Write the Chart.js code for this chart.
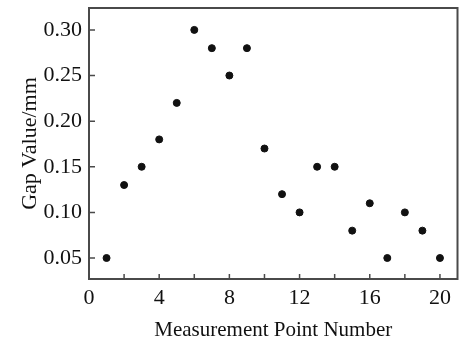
<!DOCTYPE html>
<html>
<head>
<meta charset="utf-8">
<script src="https://cdn.jsdelivr.net/npm/chart.js@4.4.1/dist/chart.umd.min.js"></script>
<style>
  html, body { margin: 0; padding: 0; background: #fff; }
  #wrap { width: 462px; height: 343px; }
</style>
</head>
<body>
<div id="wrap"><canvas id="chart" width="462" height="343"></canvas></div>
<script>
const points = [1, 2, 3, 4, 5, 6, 7, 8, 9, 10, 11, 12, 13, 14, 15, 16, 17, 18, 19, 20];
const gaps = [0.05, 0.13, 0.15, 0.18, 0.22, 0.30, 0.28, 0.25, 0.28, 0.17,
              0.12, 0.10, 0.15, 0.15, 0.08, 0.11, 0.05, 0.10, 0.08, 0.05];
const xTicks = [0, 2, 4, 6, 8, 10, 12, 14, 16, 18, 20];
const xLabels = [0, 4, 8, 12, 16, 20];
const yTicks = [0.05, 0.10, 0.15, 0.20, 0.25, 0.30];

const FONT = "'Liberation Serif', 'Times New Roman', serif";
const FRAME = "#4a4a4a";

// box around the plot + inward tick marks
const framePlugin = {
  id: "frame",
  afterDraw(chart) {
    const { ctx, chartArea: a, scales } = chart;
    ctx.save();
    ctx.strokeStyle = FRAME;
    ctx.lineWidth = 2;
    ctx.strokeRect(a.left, a.top, a.right - a.left, a.bottom - a.top);
    ctx.lineWidth = 1.5;
    ctx.beginPath();
    xTicks.forEach((v) => {
      const x = scales.x.getPixelForValue(v);
      ctx.moveTo(x, a.bottom);
      ctx.lineTo(x, a.bottom - 5);
    });
    yTicks.forEach((v) => {
      const y = scales.y.getPixelForValue(v);
      ctx.moveTo(a.left, y);
      ctx.lineTo(a.left + 6, y);
    });
    ctx.stroke();
    ctx.restore();
  },
};

new Chart(document.getElementById("chart"), {
  type: "scatter",
  data: {
    datasets: [
      {
        data: points.map((p, i) => ({ x: p, y: gaps[i] })),
        backgroundColor: "#111",
        borderColor: "#111",
        pointRadius: 3.5,
        pointHoverRadius: 3.5,
      },
    ],
  },
  options: {
    responsive: false,
    animation: false,
    layout: { padding: { top: 8, right: 0, left: 0, bottom: 0 } },
    plugins: { legend: { display: false }, tooltip: { enabled: false } },
    scales: {
      x: {
        type: "linear",
        min: 0,
        max: 21,
        afterBuildTicks: (s) => { s.ticks = xTicks.map((v) => ({ value: v })); },
        afterFit: (s) => { s.height = 64; s.paddingLeft = 0; s.paddingRight = 0; },
        grid: { display: false, drawTicks: false },
        border: { display: false },
        ticks: {
          color: "#111",
          padding: 6,
          maxRotation: 0,
          autoSkip: false,
          font: { family: FONT, size: 22 },
          callback: (v) => (xLabels.includes(v) ? String(v) : ""),
        },
        title: {
          display: true,
          text: "Measurement Point Number",
          color: "#111",
          font: { family: FONT, size: 21 },
          padding: { top: 4, bottom: 0 },
        },
      },
      y: {
        min: 0.027,
        max: 0.324,
        afterBuildTicks: (s) => { s.ticks = yTicks.map((v) => ({ value: v })); },
        afterFit: (s) => { s.width = 89; s.paddingTop = 0; s.paddingBottom = 0; },
        grid: { display: false, drawTicks: false },
        border: { display: false },
        ticks: {
          color: "#111",
          padding: 7,
          font: { family: FONT, size: 22 },
          callback: (v) => v.toFixed(2),
        },
        title: {
          display: true,
          text: "Gap Value/mm",
          color: "#111",
          font: { family: FONT, size: 22 },
          padding: { top: 17, bottom: 0 },
        },
      },
    },
  },
  plugins: [framePlugin],
});
</script>
</body>
</html>
